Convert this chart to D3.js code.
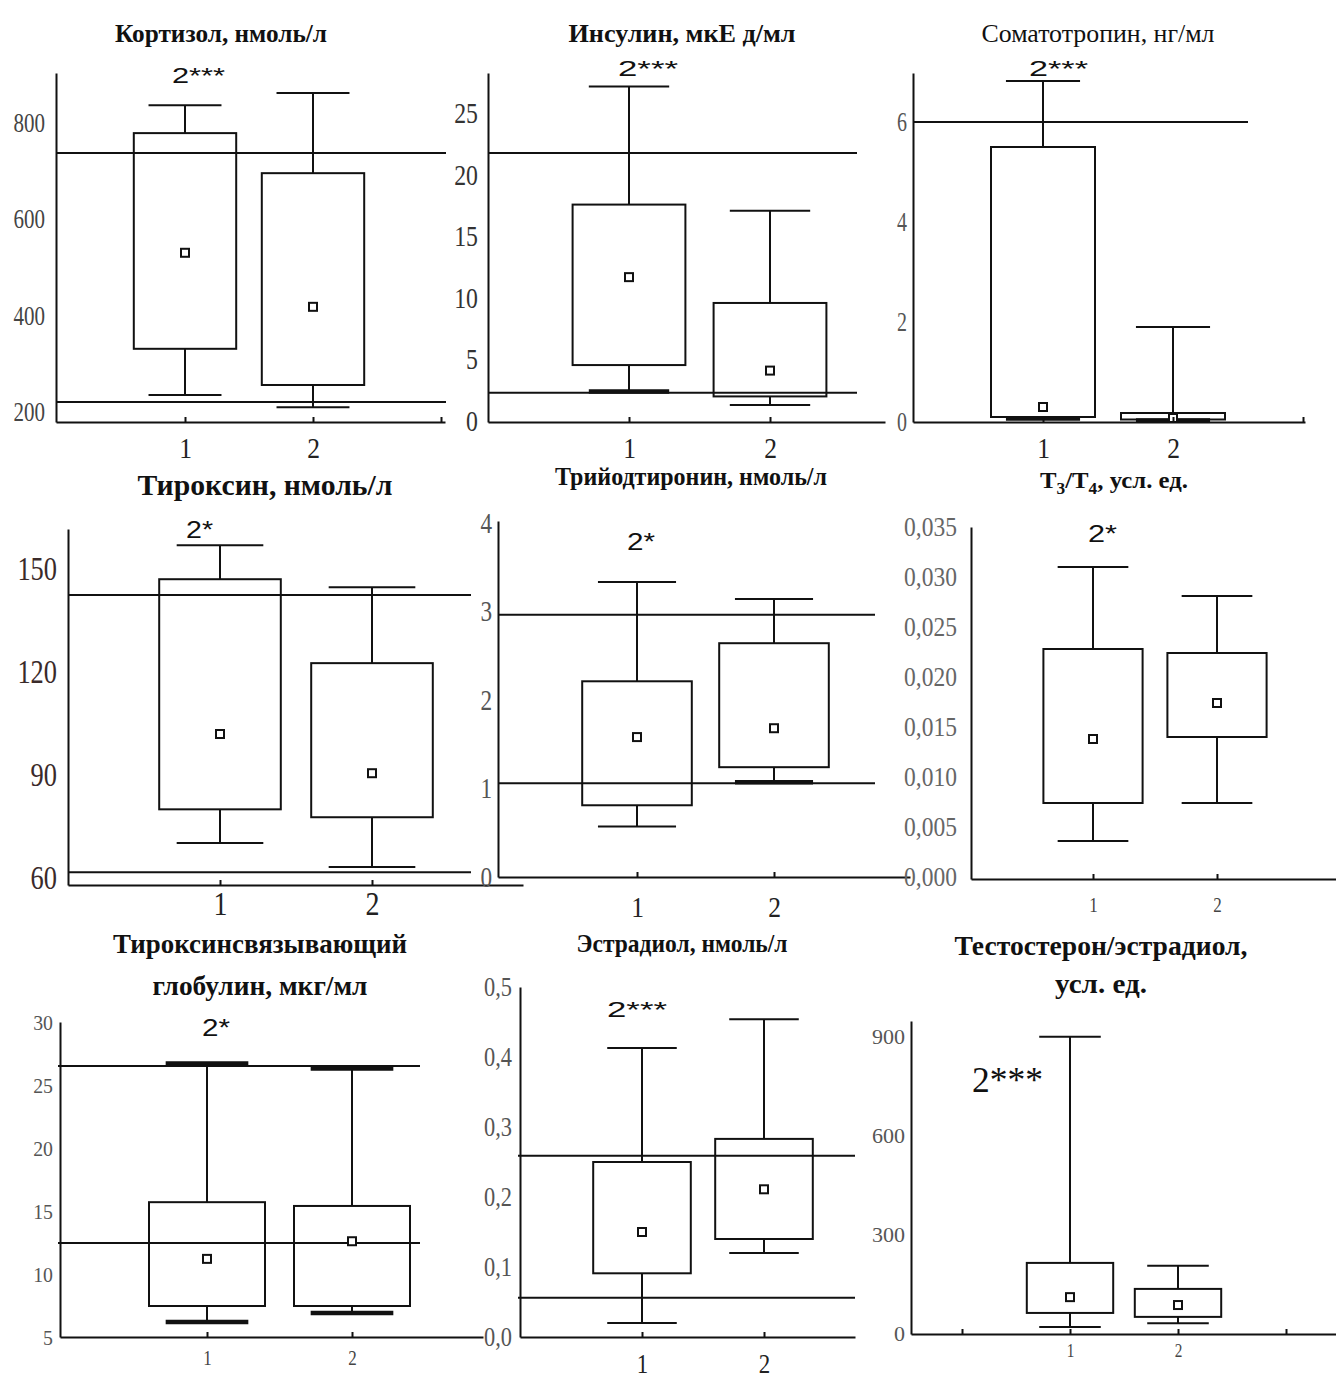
<!DOCTYPE html>
<html>
<head>
<meta charset="utf-8">
<script src="https://cdn.jsdelivr.net/npm/d3@7"></script>
<style>
  body { margin: 0; background: #fff; }
</style>
</head>
<body>
<svg id="chart"></svg>
<script>
// --- data: [min, q1, q3, max, mean] for group 1 and group 2 ---
const groups = ["1", "2"];

const titles = [
    ["Кортизол, нмоль/л"],
    ["Инсулин, мкЕ д/мл"],
    ["Соматотропин, нг/мл"],
    ["Тироксин, нмоль/л"],
    ["Трийодтиронин, нмоль/л"],
    ["T_3/T_4, усл. ед."],
    ["Тироксинсвязывающий", "глобулин, мкг/мл"],
    ["Эстрадиол, нмоль/л"],
    ["Тестостерон/эстрадиол,", "усл. ед."]
];
const annotations = ["2***", "2***", "2***", "2*", "2*", "2*", "2*", "2***", "2***"];

const cortisolStats = [[235, 331, 778, 836, 530], [210, 256, 695, 861, 418]];
const cortisolRef = [737, 221];
const cortisolTicks = [200, 400, 600, 800];

const insulinStats = [[2.4, 4.55, 17.6, 27.2, 11.7], [1.3, 2.0, 9.6, 17.1, 4.1]];
const insulinRef = [21.8, 2.3];
const insulinTicks = [0, 5, 10, 15, 20, 25];

const somatotropinStats = [[0.07, 0.1, 5.5, 6.82, 0.3], [0.03, 0.05, 0.18, 1.9, 0.08]];
const somatotropinRef = [6.0];
const somatotropinTicks = [0, 2, 4, 6];

const thyroxineStats = [[70.2, 80, 146.9, 156.8, 101.9], [63.2, 77.7, 122.5, 144.6, 90.5]];
const thyroxineRef = [142.3, 61.7];
const thyroxineTicks = [60, 90, 120, 150];

const t3Stats = [[0.57, 0.81, 2.21, 3.33, 1.58], [1.07, 1.24, 2.64, 3.14, 1.68]];
const t3Ref = [2.96, 1.06];
const t3Ticks = [0, 1, 2, 3, 4];

const t3t4Stats = [[0.0036, 0.0074, 0.0228, 0.031, 0.0138], [0.0074, 0.014, 0.0224, 0.0281, 0.0174]];
const t3t4Ref = [];
const t3t4Ticks = [0, 0.005, 0.010, 0.015, 0.020, 0.025, 0.030, 0.035];

const tbgStats = [[6.2, 7.46, 15.7, 26.7, 11.2], [6.9, 7.46, 15.4, 26.3, 12.6]];
const tbgRef = [26.5, 12.46];
const tbgTicks = [5, 10, 15, 20, 25, 30];

const estradiolStats = [[0.02, 0.091, 0.25, 0.413, 0.15], [0.12, 0.14, 0.283, 0.454, 0.211]];
const estradiolRef = [0.259, 0.056];
const estradiolTicks = [0, 0.1, 0.2, 0.3, 0.4, 0.5];

const teStats = [[18, 61, 213, 900, 109], [30, 49, 134, 204, 85]];
const teRef = [];
const teTicks = [0, 300, 600, 900];

// --- layout for each panel ---
const SERIF = "'Liberation Serif', 'Times New Roman', serif";
const SANS = "'Liberation Sans', Arial, sans-serif";
const comma = f => d => d3.format(f)(d).replace(".", ",");

const layouts = [
    { x0: 57, step: 128, xAxis: [56, 445], yDomain: [179.3, 902.6], yRange: [422, 73], xTicks: [1, 2, 3], refX: [56, 446],
      tick: { size: 28, scale: 0.75, pad: 11, color: "#444" }, xLab: { size: 30, base: 458, color: "#222" },
      title: { x: 221, y: [42], size: 25, w: [212], weight: "bold" }, ann: { x: 172, y: 83, w: 53, size: 22, font: SANS },
      fmt: d3.format("d"), thick: [] },
    { x0: 488, step: 141, xAxis: [488, 885], yDomain: [-0.08, 28.3], yRange: [422, 73], xTicks: [1, 2], refX: [488, 857],
      tick: { size: 29, scale: 0.82, pad: 10, color: "#333" }, xLab: { size: 30, base: 458, color: "#222" },
      title: { x: 682, y: [42], size: 25, w: [227], weight: "bold" }, ann: { x: 618, y: 76, w: 60, size: 22, font: SANS },
      fmt: d3.format("d"), thick: [[0, "min"]] },
    { x0: 913, step: 130, xAxis: [913, 1305], yDomain: [0, 6.98], yRange: [422, 73], xTicks: [1, 2, 3], refX: [913, 1248],
      tick: { size: 27, scale: 0.74, pad: 6, color: "#555" }, xLab: { size: 30, base: 458, color: "#222" },
      title: { x: 1098, y: [42], size: 25, w: [233], weight: "normal" }, ann: { x: 1029, y: 76, w: 59, size: 22, font: SANS },
      fmt: d3.format("d"), thick: [[0, "min"], [1, "min"]] },
    { x0: 68, step: 152, xAxis: [68, 523], yDomain: [58, 161.5], yRange: [885, 529], xTicks: [1, 2], refX: [68, 471],
      tick: { size: 33, scale: 0.8, pad: 11, color: "#3a2a2a" }, xLab: { size: 33, base: 915, color: "#222" },
      title: { x: 265, y: [495], size: 30, w: [255], weight: "bold" }, ann: { x: 186, y: 538, w: 27, size: 23, font: SANS },
      fmt: d3.format("d"), thick: [] },
    { x0: 500, step: 137, xAxis: [498, 910], yDomain: [0, 4.02], yRange: [877, 521], xTicks: [1, 2], refX: [498, 875],
      tick: { size: 29, scale: 0.8, pad: 6, color: "#555" }, xLab: { size: 30, base: 917, color: "#222" },
      title: { x: 691, y: [485], size: 26, w: [272], weight: "bold" }, ann: { x: 627, y: 550, w: 28, size: 23, font: SANS },
      fmt: d3.format("d"), thick: [[1, "min"]] },
    { x0: 969, step: 124, xAxis: [971, 1336], yDomain: [-0.0002, 0.035], yRange: [879, 527], xTicks: [1, 2], refX: null,
      tick: { size: 28, scale: 0.84, pad: 14, color: "#666" }, xLab: { size: 20, base: 912, color: "#444" },
      title: { x: 1114, y: [488], size: 24, w: [148], weight: "bold" }, ann: { x: 1088, y: 542, w: 29, size: 23, font: SANS },
      fmt: comma(".3f"), thick: [] },
    { x0: 62, step: 145, xAxis: [60, 483], yDomain: [5, 30], yRange: [1337, 1022], xTicks: [1, 2], refX: [58, 420],
      tick: { size: 22, scale: 0.9, pad: 7, color: "#555" }, xLab: { size: 20, base: 1365, color: "#444" },
      title: { x: 260, y: [953, 995], size: 27, w: [294, 215], weight: "bold" }, ann: { x: 202, y: 1036, w: 28, size: 23, font: SANS },
      fmt: d3.format("d"), thick: [[0, "max"], [0, "min"], [1, "max"], [1, "min"]] },
    { x0: 520, step: 122, xAxis: [520, 855], yDomain: [0, 0.5], yRange: [1337, 987], xTicks: [1, 2], refX: [518, 855],
      tick: { size: 28, scale: 0.8, pad: 8, color: "#555" }, xLab: { size: 27, base: 1373, color: "#222" },
      title: { x: 682, y: [952], size: 25, w: [211], weight: "bold" }, ann: { x: 607, y: 1017, w: 60, size: 22, font: SANS },
      fmt: comma(".1f"), thick: [] },
    { x0: 962, step: 108, xAxis: [911, 1336], yDomain: [-3, 948], yRange: [1334, 1021], xTicks: [0, 1, 2, 3], refX: null,
      tick: { size: 22, scale: 1.0, pad: 6, color: "#555" }, xLab: { size: 18, base: 1357, color: "#444" },
      title: { x: 1101, y: [955, 993], size: 27, w: [293, 92], weight: "bold" }, ann: { x: 972, y: 1092, w: 71, size: 36, font: SERIF },
      fmt: d3.format("d"), thick: [] }
];

const statsList = [cortisolStats, insulinStats, somatotropinStats, thyroxineStats, t3Stats, t3t4Stats, tbgStats, estradiolStats, teStats];
const refList = [cortisolRef, insulinRef, somatotropinRef, thyroxineRef, t3Ref, t3t4Ref, tbgRef, estradiolRef, teRef];
const tickList = [cortisolTicks, insulinTicks, somatotropinTicks, thyroxineTicks, t3Ticks, t3t4Ticks, tbgTicks, estradiolTicks, teTicks];

const panels = layouts.map((l, i) => Object.assign({}, l, {
    stats: statsList[i], refs: refList[i], ticks: tickList[i], titleLines: titles[i], annotation: annotations[i]
}));

const svg = d3.select("#chart").attr("width", 1336).attr("height", 1378);
const INK = "#111";

// title text with "_3" style subscripts
function addRich(text, str, size) {
    const sh = Math.round(size * 0.25);
    let shifted = false;
    str.split(/(_\d)/).forEach(part => {
        if (!part) return;
        if (part[0] === "_") {
            text.append("tspan").attr("dy", sh).attr("font-size", size * 0.7).text(part.slice(1));
            shifted = true;
        } else {
            text.append("tspan").attr("dy", shifted ? -sh : 0).text(part);
            shifted = false;
        }
    });
}

panels.forEach(p => {
    const g = svg.append("g");
    const y = d3.scaleLinear().domain(p.yDomain).range(p.yRange);
    const x = d3.scaleLinear()
        .domain([(p.xAxis[0] - p.x0) / p.step, (p.xAxis[1] - p.x0) / p.step])
        .range(p.xAxis);

    // reference (norm) lines
    if (p.refX) {
        g.selectAll("line.ref")
            .data(p.refs)
            .enter()
            .append("line")
            .attr("class", "ref")
            .attr("x1", p.refX[0]).attr("x2", p.refX[1])
            .attr("y1", d => y(d)).attr("y2", d => y(d))
            .attr("stroke", INK).attr("stroke-width", 2);
    }

    // boxes
    const bw = 0.8 * p.step, cw = 0.57 * p.step;
    p.stats.forEach((s, i) => {
        const [mn, q1, q3, mx, mean] = s;
        const cx = x(i + 1);
        const bg = g.append("g").attr("stroke", INK).attr("stroke-width", 2).attr("fill", "none");
        bg.append("line").attr("x1", cx).attr("x2", cx).attr("y1", y(q3)).attr("y2", y(mx));
        bg.append("line").attr("x1", cx).attr("x2", cx).attr("y1", y(q1)).attr("y2", y(mn));
        [["max", mx], ["min", mn]].forEach(([k, v]) => {
            const thick = p.thick.some(t => t[0] === i && t[1] === k);
            bg.append("line")
                .attr("x1", cx - cw / 2).attr("x2", cx + cw / 2)
                .attr("y1", y(v)).attr("y2", y(v))
                .attr("stroke-width", thick ? 4.5 : 2);
        });
        bg.append("rect")
            .attr("x", cx - bw / 2).attr("y", y(q3))
            .attr("width", bw).attr("height", y(q1) - y(q3));
        bg.append("rect")
            .attr("x", cx - 4).attr("y", y(mean) - 4)
            .attr("width", 8).attr("height", 8)
            .attr("fill", "#fff");
    });

    // y axis
    const ya = g.append("g")
        .attr("transform", `translate(${p.xAxis[0]},0)`)
        .call(d3.axisLeft(y).tickValues(p.ticks).tickSize(0).tickSizeOuter(0).tickFormat(p.fmt));
    ya.select(".domain").attr("stroke", INK).attr("stroke-width", 2);
    ya.selectAll("text")
        .attr("x", 0)
        .attr("transform", `translate(${-p.tick.pad},0) scale(${p.tick.scale},1)`)
        .attr("font-family", SERIF)
        .attr("font-size", p.tick.size)
        .attr("fill", p.tick.color);

    // x axis
    const base = p.yRange[0];
    const xa = g.append("g")
        .attr("transform", `translate(0,${base})`)
        .call(d3.axisBottom(x).tickValues(p.xTicks).tickSizeInner(-5).tickSizeOuter(0)
            .tickFormat(d => (d === 1 || d === 2) ? groups[d - 1] : ""));
    xa.select(".domain").attr("stroke", INK).attr("stroke-width", 2);
    xa.selectAll(".tick line").attr("stroke", INK).attr("stroke-width", 2);
    xa.selectAll("text")
        .attr("x", 0)
        .attr("y", p.xLab.base - base)
        .attr("dy", 0)
        .attr("transform", "scale(0.85,1)")
        .attr("font-family", SERIF)
        .attr("font-size", p.xLab.size)
        .attr("fill", p.xLab.color);

    // title
    p.titleLines.forEach((line, k) => {
        const t = g.append("text")
            .attr("x", p.title.x).attr("y", p.title.y[k])
            .attr("text-anchor", "middle")
            .attr("font-family", SERIF)
            .attr("font-weight", p.title.weight)
            .attr("font-size", p.title.size)
            .attr("fill", "#111")
            .attr("textLength", p.title.w[k])
            .attr("lengthAdjust", "spacingAndGlyphs");
        addRich(t, line, p.title.size);
    });

    // significance mark
    g.append("text")
        .attr("x", p.ann.x).attr("y", p.ann.y)
        .attr("font-family", p.ann.font)
        .attr("font-size", p.ann.size)
        .attr("fill", "#111")
        .attr("textLength", p.ann.w)
        .attr("lengthAdjust", "spacingAndGlyphs")
        .text(p.annotation);
});
</script>
</body>
</html>
